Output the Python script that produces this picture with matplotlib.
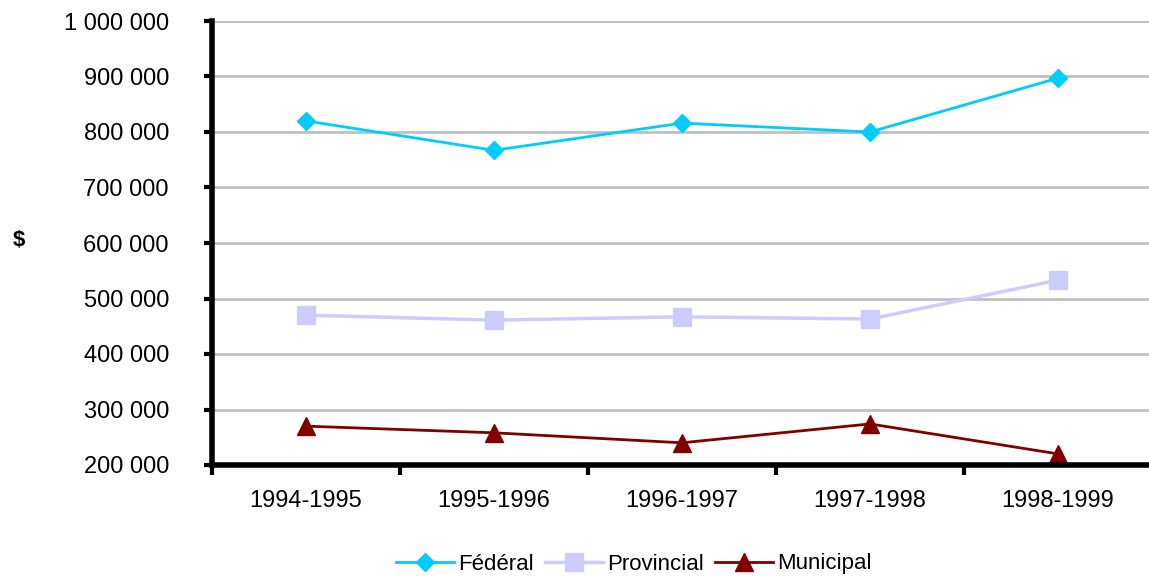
import matplotlib.pyplot as plt
from matplotlib.ticker import FuncFormatter

plt.rcParams['font.family'] = ['Liberation Sans', 'DejaVu Sans']

years = ['1994-1995', '1995-1996', '1996-1997', '1997-1998', '1998-1999']
federal = [820000, 767000, 816000, 800000, 897000]
provincial = [470000, 461000, 467000, 463000, 533000]
municipal = [270000, 258000, 240000, 274000, 220000]


def main():
    fig = plt.figure(figsize=(11.49, 5.76), dpi=100)
    ax = fig.add_axes([212 / 1149, 1 - 465 / 576, 940 / 1149, 444 / 576])

    x = range(len(years))
    ax.plot(x, federal, color='#00ccff', lw=2, marker='D', ms=9.5,
            label='Fédéral', clip_on=False)
    ax.plot(x, provincial, color='#ccccff', lw=2.5, marker='s', ms=12.5,
            label='Provincial', clip_on=False)
    ax.plot(x, municipal, color='#800000', lw=2, marker='^', ms=13,
            label='Municipal', clip_on=False)

    ax.set_xlim(-0.5, 4.5)
    ax.set_ylim(200000, 1000000)
    ax.set_yticks(range(200000, 1000001, 100000))
    ax.yaxis.set_major_formatter(
        FuncFormatter(lambda v, p: f'{int(v):,}'.replace(',', ' ')))
    ax.set_xticks([i - 0.5 for i in range(len(years) + 1)])
    ax.set_xticklabels([])
    ax.set_xticks(list(x), minor=True)
    ax.set_xticklabels(years, minor=True)
    ax.tick_params(axis='x', which='minor', length=0, pad=18, labelsize=17)
    ax.tick_params(axis='x', which='major', length=7, width=3, direction='out')
    ax.tick_params(axis='y', length=6, width=3, direction='out', labelsize=17, pad=25)

    ax.yaxis.grid(True, color='#c0c0c0', lw=2)
    ax.set_axisbelow(True)
    for s in ['top', 'right']:
        ax.spines[s].set_visible(False)
    for s in ['left', 'bottom']:
        ax.spines[s].set_linewidth(4)

    fig.text(18.5 / 1149, 1 - 241 / 576, '$', fontsize=16, fontweight='bold',
             ha='center', va='center')

    fig.legend(loc='center', bbox_to_anchor=(634 / 1149, 1 - 564 / 576), ncol=3,
               frameon=False, fontsize=16, handlelength=2.6, handletextpad=0.2,
               columnspacing=0.5)

    fig.savefig('out.png', dpi=100)


if __name__ == '__main__':
    main()
